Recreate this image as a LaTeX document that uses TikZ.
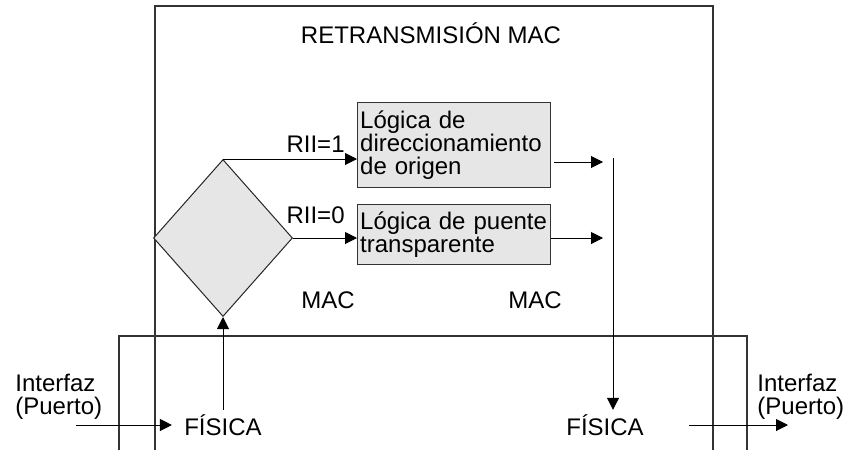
\documentclass[tikz,border=0pt]{standalone}
\usepackage{fontspec}
\setmainfont{Liberation Sans}
\usetikzlibrary{shapes.geometric, arrows.meta}

\definecolor{boxgray}{HTML}{E6E6E7}

\tikzset{
  frame/.style={draw=black!80, line width=0.75pt},
  logic/.style={draw=black!80, line width=0.7pt, fill=boxgray, align=left,
    text width=94pt, inner xsep=1.25pt, inner ysep=0pt, anchor=north west},
  decision/.style={diamond, draw=black!85, line width=0.5pt, fill=boxgray,
    minimum width=69.5pt, minimum height=78.5pt, inner sep=0pt},
  arr/.style={-{Triangle[length=6pt,width=6pt]}, line width=0.5pt},
  lbl/.style={inner sep=2pt}
}

\begin{document}
\begin{tikzpicture}[x=0.5pt, y=-0.5pt, font=\fontsize{12}{11.5}\selectfont]
    \useasboundingbox (0,0) rectangle (845,450);

    % Draw the two layer frames (open at the bottom)
    \draw[frame] (155,450) |- (713,6) -- (713,450);
    \draw[frame] (119,450) |- (747,336) -- (747,450);

    % Layer labels
    \node[lbl, anchor=base] (title) at (431,43) {RETRANSMISIÓN MAC};
    \node[lbl, anchor=base] (mac1) at (328,308) {MAC};
    \node[lbl, anchor=base] (mac2) at (535,308) {MAC};
    \node[lbl, anchor=base] (fis1) at (223,435) {FÍSICA};
    \node[lbl, anchor=base] (fis2) at (605,435) {FÍSICA};

    % Decision and logic blocks
    \node[decision] (dec) at (223,238) {};
    \node[logic, minimum height=42.5pt] (src) at (357,102) {Lógica de\\direccionamiento\\de origen};
    \node[logic, minimum height=30pt] (tb) at (357,204) {Lógica de puente\\transparente};

    % Branch labels
    \node[lbl, anchor=base east] (rii1) at (349,152) {RII=1};
    \node[lbl, anchor=base east] (rii0) at (349,223) {RII=0};

    % Port labels
    \node[lbl, align=left, anchor=west] (if1) at (11,397) {Interfaz\\(Puerto)};
    \node[lbl, align=left, anchor=west] (if2) at (753,397) {Interfaz\\(Puerto)};

    % Free ends of the connectors
    \coordinate (in) at (76,425);
    \coordinate (out) at (788,425);
    \coordinate (o1) at (603,162);
    \coordinate (o2) at (603,238);
    \coordinate (vtop) at (613,158);

    % Connectors
    \draw[arr, shorten >=4pt] (in) -- (in -| fis1.west);
    \draw[arr] (fis1.north) -- (dec.south);
    \draw[arr] (dec.north) -- (dec.north -| src.west);
    \draw[arr] (dec.east) -- (dec.east -| tb.west);
    \draw[arr, shorten <=1.5pt] (src.east |- o1) -- (o1);
    \draw[arr] (tb.east |- o2) -- (o2);
    \draw[arr] (vtop) -- (vtop |- fis2.north);
    \draw[arr, shorten <=20.5pt] (fis2.east |- out) -- (out);
\end{tikzpicture}
\end{document}
